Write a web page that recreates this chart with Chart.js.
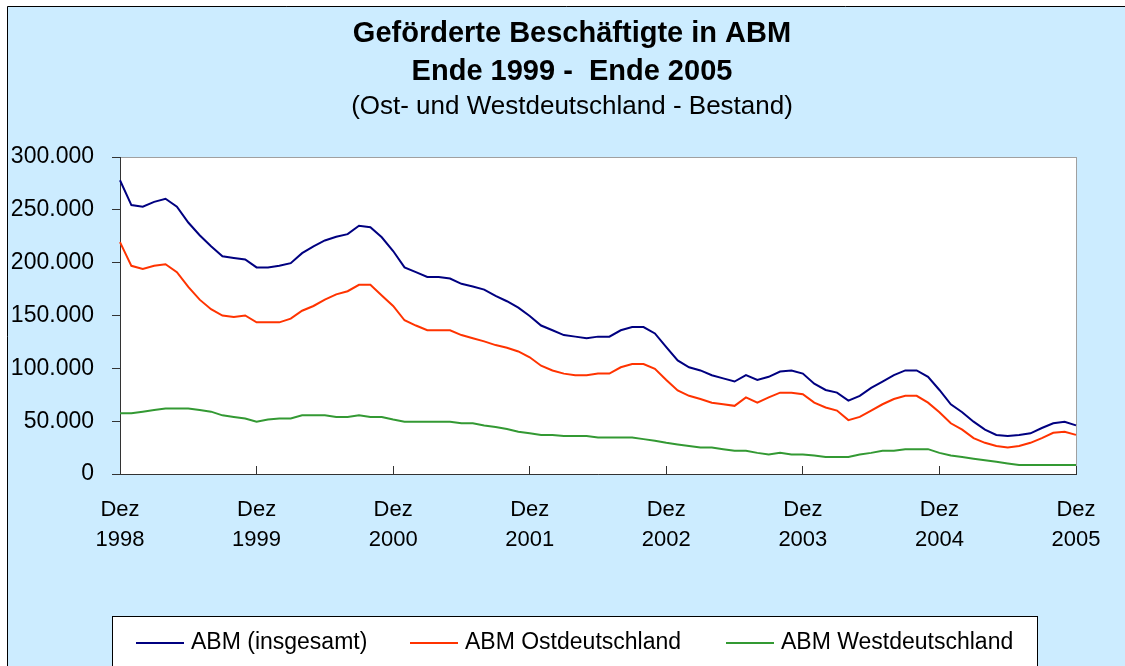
<!DOCTYPE html>
<html lang="de">
<head>
<meta charset="utf-8">
<title>Geförderte Beschäftigte in ABM</title>
<script src="https://cdn.jsdelivr.net/npm/chart.js@4.4.1/dist/chart.umd.min.js"></script>
<style>
    html, body { margin: 0; padding: 0; background: #fff; }
    #wrap { width: 1125px; height: 666px; position: relative; }
</style>
</head>
<body>
<div id="wrap"><canvas id="chartABM"></canvas></div>
<script>
// ============ DATEN ============
const MONATE = ['Jan','Feb','Mär','Apr','Mai','Jun','Jul','Aug','Sep','Okt','Nov','Dez'];
const JAHRE = [1999, 2000, 2001, 2002, 2003, 2004, 2005];

// Dez 1998 .. Dez 2005, monatlich
const kategorien = ['Dez 1998'];
JAHRE.forEach(j => MONATE.forEach(m => kategorien.push(m + ' ' + j)));

const abmGesamt = [
    278000, 254500, 253000, 257500, 260500, 253000, 238000, 226000, 215500, 206000, 204500, 203000,
    195500, 195500, 197000, 199500, 209000, 215500, 221000, 224500, 227000, 235000, 233500, 224000,
    211000, 195500, 191000, 186500, 186500, 185000, 180000, 177500, 174500, 168500, 163500, 157500,
    149500, 140500, 136000, 131500, 130000, 128500, 130000, 130000, 136000, 139000, 139000, 133000,
    120000, 107500, 101000, 98000, 93500, 90500, 87500, 93500, 89000, 92000, 97000, 98000,
    95000, 85500, 79500, 77000, 69500, 74000, 81500, 87500, 93500, 98000, 98000, 92000,
    79500, 66000, 58500, 49500, 42000, 37000, 36000, 37000, 38500, 43500, 48000, 49500,
    46000
];
const abmOst = [
    219500, 197000, 194000, 197000, 198500, 191000, 177000, 165000, 156000, 150000, 148500, 150000,
    143500, 143500, 143500, 147000, 154500, 159000, 165000, 170000, 173000, 179000, 179000, 169000,
    159000, 145500, 140500, 136000, 136000, 136000, 131500, 128500, 125500, 122000, 119500, 116000,
    110500, 102500, 98000, 95000, 93500, 93500, 95000, 95000, 101000, 104000, 104000, 99500,
    89000, 79000, 74000, 71000, 67500, 66000, 64500, 72500, 67500, 72500, 77000, 77000,
    75500, 67500, 63000, 60000, 51000, 54000, 60000, 66000, 71000, 74000, 74000, 67500,
    58500, 48000, 42000, 34000, 29500, 26500, 25000, 26500, 29500, 34000, 39000, 40000,
    37000
];
const abmWest = [
    57500, 57500, 59000, 60500, 62000, 62000, 62000, 60500, 59000, 55500, 54000, 52500,
    49500, 51500, 52500, 52500, 55500, 55500, 55500, 54000, 54000, 55500, 54000, 54000,
    51500, 49500, 49500, 49500, 49500, 49500, 48000, 48000, 46000, 44500, 42500, 40000,
    38500, 37000, 37000, 36000, 36000, 36000, 34500, 34500, 34500, 34500, 33000, 31500,
    29500, 28000, 26500, 25000, 25000, 23500, 22000, 22000, 20000, 18500, 20000, 18500,
    18500, 17500, 16000, 16000, 16000, 18500, 20000, 22000, 22000, 23500, 23500, 23500,
    20000, 17500, 16000, 14500, 13000, 11500, 10000, 8500, 8500, 8500, 8500, 8500,
    8500
];

const serienNamen = ['ABM (insgesamt)', 'ABM Ostdeutschland', 'ABM Westdeutschland'];
const serienFarben = ['#000080', '#FF3300', '#339933'];

const FONT = "'Liberation Sans', Arial, sans-serif";
const BG_BLAU = '#CCECFF';

// Hintergrund, Rahmen, Plotfläche und Legende (Excel-Stil)
const excelRahmen = {
    id: 'excelRahmen',
    afterLayout(chart) {
        // Achsenbeschriftung nicht am linken Rand der Skala abschneiden
        chart.scales.y.left = 8;
    },
    beforeDraw(chart) {
        const { ctx, width, height, chartArea: a } = chart;
        ctx.save();
        ctx.fillStyle = '#fff';
        ctx.fillRect(0, 0, width, height);
        ctx.fillStyle = BG_BLAU;
        ctx.fillRect(7, 6, width - 7, height - 6);
        ctx.strokeStyle = '#000';
        ctx.lineWidth = 1;
        ctx.beginPath();
        ctx.moveTo(7.5, height);
        ctx.lineTo(7.5, 6.5);
        ctx.lineTo(width, 6.5);
        ctx.stroke();
        // Plotfläche
        ctx.fillStyle = '#fff';
        ctx.fillRect(a.left, a.top, a.right - a.left, a.bottom - a.top);
        ctx.strokeStyle = '#a0a0a0';
        ctx.strokeRect(a.left + 0.5, a.top + 0.5, a.right - a.left, a.bottom - a.top);
        ctx.restore();
    },
    afterDraw(chart) {
        const { ctx } = chart;
        ctx.save();
        ctx.fillStyle = '#fff';
        ctx.fillRect(112, 616, 925, 60);
        ctx.strokeStyle = '#000';
        ctx.lineWidth = 1;
        ctx.strokeRect(112.5, 616.5, 925, 60);
        const xs = [136, 410, 726];
        ctx.font = '23px ' + FONT;
        ctx.textBaseline = 'middle';
        ctx.textAlign = 'left';
        chart.data.datasets.forEach((ds, i) => {
            ctx.strokeStyle = ds.borderColor;
            ctx.lineWidth = 2;
            ctx.beginPath();
            ctx.moveTo(xs[i], 643);
            ctx.lineTo(xs[i] + 48, 643);
            ctx.stroke();
            ctx.fillStyle = '#000';
            ctx.fillText(ds.label, xs[i] + 55, 643);
        });
        ctx.restore();
    }
};

const datenreihen = [abmGesamt, abmOst, abmWest];

new Chart(document.getElementById('chartABM'), {
    type: 'line',
    data: {
        labels: kategorien,
        datasets: datenreihen.map((werte, i) => ({
            label: serienNamen[i],
            data: werte,
            borderColor: serienFarben[i],
            backgroundColor: serienFarben[i],
            borderWidth: 2,
            pointRadius: 0,
            tension: 0,
            fill: false
        }))
    },
    options: {
        responsive: true,
        maintainAspectRatio: false,
        animation: false,
        layout: { padding: { left: 68, right: 49, top: 0, bottom: 0 } },
        plugins: {
            legend: { display: false },
            tooltip: { enabled: false },
            title: {
                display: true,
                text: ['Geförderte Beschäftigte in ABM', 'Ende 1999 -  Ende 2005'],
                color: '#000',
                font: { family: FONT, size: 29, weight: 'bold', lineHeight: '38px' },
                padding: { top: 15, bottom: 0 }
            },
            subtitle: {
                display: true,
                text: '(Ost- und Westdeutschland - Bestand)',
                color: '#000',
                font: { family: FONT, size: 26, weight: 'normal', lineHeight: '30px' },
                padding: { top: 1, bottom: 35 }
            }
        },
        scales: {
            x: {
                type: 'category',
                offset: false,
                grid: { drawOnChartArea: false, tickLength: -8, color: '#333', lineWidth: 1 },
                border: { display: true, color: '#333', width: 1 },
                ticks: {
                    autoSkip: false,
                    maxRotation: 0,
                    minRotation: 0,
                    padding: 29,
                    color: '#000',
                    font: { family: FONT, size: 22, lineHeight: '30px' },
                    callback: function(val, idx) {
                        if (idx % 12 !== 0) return null;
                        return ['Dez', String(1998 + idx / 12)];
                    }
                },
                afterFit: scale => {
                    scale.height = 192;
                    scale.paddingLeft = 0;
                    scale.paddingRight = 0;
                }
            },
            y: {
                min: 0,
                max: 300000,
                grid: { drawOnChartArea: false, tickLength: 8, color: '#333', lineWidth: 1 },
                border: { display: true, color: '#333', width: 1 },
                ticks: {
                    stepSize: 50000,
                    padding: 18,
                    color: '#000',
                    font: { family: FONT, size: 23 },
                    callback: v => v === 0 ? '0' : (v / 1000) + '.000'
                },
                afterFit: scale => { scale.width = 52; }
            }
        }
    },
    plugins: [excelRahmen]
});
</script>
</body>
</html>
